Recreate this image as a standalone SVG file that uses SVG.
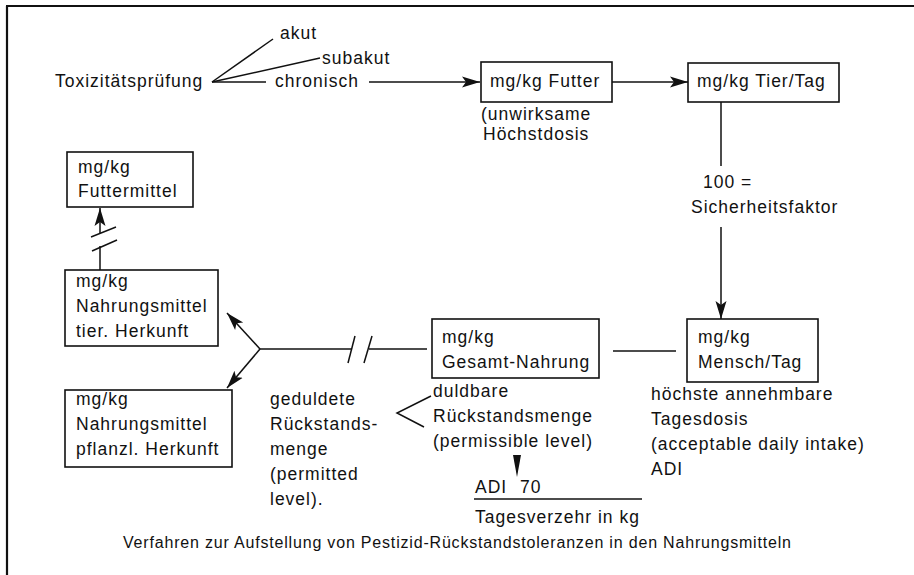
<svg xmlns="http://www.w3.org/2000/svg" width="914" height="575" viewBox="0 0 914 575">
<style>
text{font-family:"Liberation Sans",Arial,sans-serif;font-size:17.5px;fill:#111;letter-spacing:1px}
.cap{font-size:16px;letter-spacing:0}
.box{fill:#fff;stroke:#111;stroke-width:1.6}
.ln{stroke:#111;stroke-width:1.5;fill:none}
.frame{stroke:#111;stroke-width:2.2;fill:none}
</style>
<defs>
<marker id="ah" markerUnits="userSpaceOnUse" markerWidth="20" markerHeight="14" refX="18" refY="6" orient="auto">
<path d="M0,0.5 L18,6 L0,11.5 L4,6 Z" fill="#111"/>
</marker>
</defs>
<rect width="914" height="575" fill="#fff"/>
<g id="frame">
<path class="frame" d="M6,6 H914 M7,6 V575"/>
</g>
<g id="connectors">
<line class="ln" x1="212" y1="82" x2="273" y2="39"/>
<line class="ln" x1="212" y1="82" x2="320" y2="58"/>
<line class="ln" x1="212" y1="82" x2="266" y2="82"/>
<line class="ln" x1="369" y1="82" x2="480" y2="82" marker-end="url(#ah)"/>
<line class="ln" x1="612" y1="82" x2="688" y2="82" marker-end="url(#ah)"/>
<line class="ln" x1="721" y1="102" x2="721" y2="166"/>
<line class="ln" x1="721" y1="227" x2="721" y2="319" marker-end="url(#ah)"/>
<line class="ln" x1="613" y1="351" x2="676" y2="351"/>
<line class="ln" x1="369" y1="349" x2="427" y2="349"/>
<line class="ln" x1="260" y1="349" x2="352" y2="349"/>
<line class="ln" x1="348" y1="363" x2="355" y2="336"/>
<line class="ln" x1="364" y1="363" x2="372" y2="336"/>
<line class="ln" x1="260" y1="349" x2="227" y2="313" marker-end="url(#ah)"/>
<line class="ln" x1="260" y1="349" x2="227" y2="388" marker-end="url(#ah)"/>
<line class="ln" x1="100" y1="233" x2="100" y2="208" marker-end="url(#ah)"/>
<line class="ln" x1="91" y1="237" x2="116" y2="227"/>
<line class="ln" x1="92" y1="251" x2="117" y2="240"/>
<line class="ln" x1="100" y1="246" x2="100" y2="270"/>
<polyline class="ln" points="431,396 397,413 424,427"/>
<polygon points="513,455 521,455 517,477" fill="#111"/>
<line class="ln" x1="474" y1="499" x2="642" y2="499"/>
</g>
<g id="n-tox">
<text x="55" y="87">Toxizitätsprüfung</text>
<text x="280" y="39">akut</text>
<text x="322" y="64">subakut</text>
<text x="275" y="87">chronisch</text>
</g>
<g id="n-futter">
<rect class="box" x="481" y="62" width="131" height="40"/>
<text x="490" y="87">mg/kg Futter</text>
<text x="481" y="120">(unwirksame</text>
<text x="483" y="140">Höchstdosis</text>
</g>
<g id="n-tier">
<rect class="box" x="688" y="63" width="151" height="39"/>
<text x="697" y="87">mg/kg Tier/Tag</text>
</g>
<g id="n-faktor">
<text x="703" y="188">100 =</text>
<text x="691" y="213">Sicherheitsfaktor</text>
</g>
<g id="n-mensch">
<rect class="box" x="687" y="319" width="131" height="63"/>
<text x="698" y="343">mg/kg</text>
<text x="698" y="368">Mensch/Tag</text>
<text x="651" y="400">höchste annehmbare</text>
<text x="651" y="425">Tagesdosis</text>
<text x="651" y="450">(acceptable daily intake)</text>
<text x="651" y="475">ADI</text>
</g>
<g id="n-gesamt">
<rect class="box" x="432" y="319" width="167" height="59"/>
<text x="442" y="343">mg/kg</text>
<text x="442" y="368">Gesamt-Nahrung</text>
<text x="433" y="397">duldbare</text>
<text x="433" y="422">Rückstandsmenge</text>
<text x="433" y="447">(permissible level)</text>
</g>
<g id="n-formel">
<text x="475" y="493">ADI</text>
<text x="520" y="493">70</text>
<text x="475" y="523">Tagesverzehr in kg</text>
</g>
<g id="n-futtermittel">
<rect class="box" x="67" y="152" width="126" height="55"/>
<text x="78" y="173">mg/kg</text>
<text x="78" y="197">Futtermittel</text>
</g>
<g id="n-tierisch">
<rect class="box" x="65" y="270" width="153" height="76"/>
<text x="76" y="287">mg/kg</text>
<text x="76" y="312">Nahrungsmittel</text>
<text x="76" y="337">tier. Herkunft</text>
</g>
<g id="n-pflanzlich">
<rect class="box" x="65" y="390" width="167" height="77"/>
<text x="76" y="405">mg/kg</text>
<text x="76" y="430">Nahrungsmittel</text>
<text x="76" y="455">pflanzl. Herkunft</text>
</g>
<g id="n-geduldet">
<text x="270" y="405">geduldete</text>
<text x="270" y="430">Rückstands-</text>
<text x="270" y="455">menge</text>
<text x="270" y="480">(permitted</text>
<text x="270" y="505">level).</text>
</g>
<g id="caption">
<text class="cap" x="123" y="548" textLength="668" lengthAdjust="spacing">Verfahren zur Aufstellung von Pestizid-Rückstandstoleranzen in den Nahrungsmitteln</text>
</g>
</svg>
